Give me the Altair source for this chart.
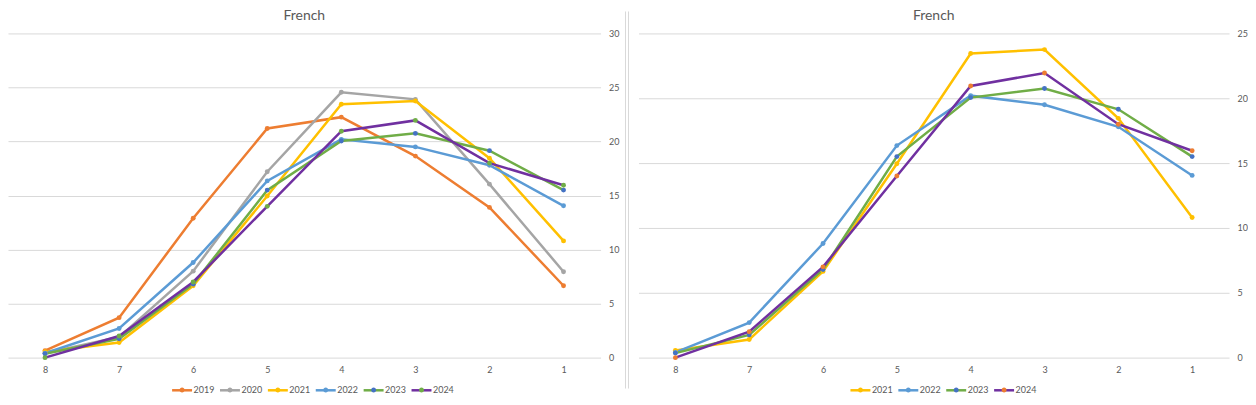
import altair as alt
import pandas as pd

grades = ["8", "7", "6", "5", "4", "3", "2", "1"]

scores = {
    "2019": [0.65, 3.7, 12.9, 21.2, 22.25, 18.65, 13.9, 6.65],
    "2020": [0.4, 1.9, 8.0, 17.2, 24.55, 23.9, 16.05, 7.95],
    "2021": [0.55, 1.4, 6.65, 14.95, 23.45, 23.75, 18.45, 10.8],
    "2022": [0.4, 2.7, 8.8, 16.35, 20.2, 19.5, 17.8, 14.05],
    "2023": [0.35, 1.75, 6.8, 15.5, 20.05, 20.75, 19.15, 15.5],
    "2024": [0.0, 2.0, 7.0, 14.0, 20.95, 21.95, 18.0, 15.95],
}

years_left = ["2019", "2020", "2021", "2022", "2023", "2024"]
years_right = ["2021", "2022", "2023", "2024"]

line_colors = {"2019": "#ED7D31", "2020": "#A5A5A5", "2021": "#FFC000",
               "2022": "#5B9BD5", "2023": "#70AD47", "2024": "#7030A0"}
marker_left = {"2019": "#ED7D31", "2020": "#A5A5A5", "2021": "#FFC000",
               "2022": "#5B9BD5", "2023": "#4472C4", "2024": "#70AD47"}
marker_right = {"2021": "#FFC000", "2022": "#5B9BD5", "2023": "#4472C4",
                "2024": "#ED7D31"}

FONT = "Lato"
TXT = "#595959"
GRID = "#d9d9d9"
# dot with invisible move-to points so its bounds match the stroke symbol
CIRCLE = "M-1,0M1,0M-0.25,0A0.25,0.25 0 1,0 0.25,0A0.25,0.25 0 1,0 -0.25,0Z"
LW = 2.5


def make_df(years):
    rows = []
    for yr in years:
        for g, v in zip(grades, scores[yr]):
            rows.append({"Grade": g, "Score": v, "Year": yr, "Marker": yr})
    return pd.DataFrame(rows)


def panel(years, markers, ymax, width, legend_x, legend_y, sep_x):
    df = make_df(years)
    x = alt.X("Grade:N", sort=grades,
              scale=alt.Scale(type="point", padding=0.5),
              axis=alt.Axis(title=None, labelAngle=0, ticks=False, domain=False,
                            grid=False, labelPadding=8, labelFontSize=9,
                            labelColor=TXT, labelFont=FONT))
    y = alt.Y("Score:Q", scale=alt.Scale(domain=[0, ymax], nice=False),
              axis=alt.Axis(orient="right", title=None,
                            values=list(range(0, ymax + 1, 5)), ticks=False,
                            domain=False, grid=True, gridColor=GRID,
                            labelPadding=8, labelFontSize=9, labelColor=TXT,
                            labelFont=FONT))
    common_leg = dict(orient="none", legendX=legend_x, legendY=legend_y,
                      direction="horizontal", columns=len(years), title=None,
                      symbolSize=400, symbolStrokeWidth=LW,
                      labelFontSize=9, labelColor=TXT,
                      labelFont=FONT, labelOffset=0, columnPadding=0, padding=0)
    # stroke scale: domain from data (sorted), fill scale: explicit domain
    lines = alt.Chart(df).mark_line(strokeWidth=LW).encode(
        x=x, y=y,
        stroke=alt.Stroke("Year:N",
                          scale=alt.Scale(range=[line_colors[v] for v in years]),
                          legend=alt.Legend(symbolType="stroke", **common_leg)),
    )
    pts = alt.Chart(df).mark_point(filled=True, size=24, opacity=1,
                                   strokeWidth=0).encode(
        x=x, y=y,
        fill=alt.Fill("Marker:N",
                      scale=alt.Scale(domain=years,
                                      range=[markers[v] for v in years]),
                      legend=alt.Legend(symbolType=CIRCLE,
                                        symbolStrokeColor="transparent",
                                        labelOpacity=0, **common_leg)),
    )
    sep = alt.Chart(pd.DataFrame({"s": [0]})).mark_rule(
        color=GRID, strokeWidth=1).encode(
        x=alt.value(sep_x), y=alt.value(-22), y2=alt.value(356))
    return alt.layer(lines, pts, sep).properties(
        width=width, height=325,
        title=alt.TitleParams("French", fontSize=14, color=TXT,
                              fontWeight="normal", font=FONT, offset=-12,
                              anchor="middle"))


left = panel(years_left, marker_left, 30, 594, 163, 346, 619)
right = panel(years_right, marker_right, 25, 592, 211, 346, -10)

chart = alt.hconcat(left, right, spacing=1).resolve_scale(
    stroke="independent", fill="independent", x="independent", y="independent"
).resolve_legend(
    stroke="independent", fill="independent"
).properties(
    padding=0
).configure_view(stroke=None)

chart.save("out.html", embed_options={"renderer": "svg", "actions": False})
